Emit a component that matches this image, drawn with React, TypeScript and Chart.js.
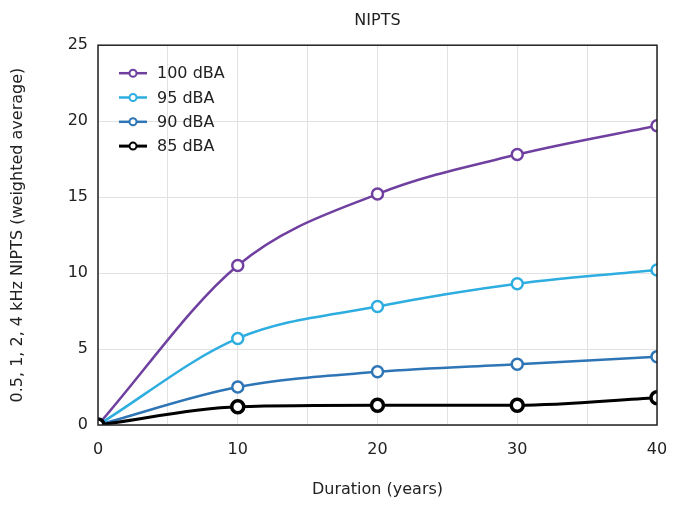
import React, { useEffect, useRef } from "react";
import { Chart, registerables } from "chart.js";

Chart.register(...registerables);

const durations = [0, 10, 20, 30, 40];
const seriesLabels = ["100 dBA", "95 dBA", "90 dBA", "85 dBA"];
const nipts100 = [0, 10.5, 15.2, 17.8, 19.7];
const nipts95 = [0, 5.7, 7.8, 9.3, 10.2];
const nipts90 = [0, 2.5, 3.5, 4.0, 4.5];
const nipts85 = [0, 1.2, 1.3, 1.3, 1.8];
const seriesColors = ["#7040A0", "#2EADE0", "#2E75B6", "#000000"];

const FONT = "'DejaVu Sans', sans-serif";

const frameAndLegend = {
  id: "frameAndLegend",
  afterDatasetsDraw(chart: any) {
    const { ctx, chartArea } = chart;
    ctx.save();
    ctx.strokeStyle = "#222";
    ctx.lineWidth = 1.5;
    ctx.strokeRect(chartArea.left, chartArea.top, chartArea.right - chartArea.left, chartArea.bottom - chartArea.top);
    ctx.restore();
  },
  afterDraw(chart: any) {
    const { ctx, chartArea } = chart;
    const ds = chart.data.datasets.slice().reverse();
    ctx.save();
    ds.forEach((d: any, i: number) => {
      const y = chartArea.top + 28 + i * 24.3;
      const x0 = chartArea.left + 21;
      ctx.strokeStyle = d.borderColor;
      ctx.lineWidth = d.borderWidth;
      ctx.beginPath();
      ctx.moveTo(x0, y);
      ctx.lineTo(x0 + 28, y);
      ctx.stroke();
      ctx.beginPath();
      ctx.arc(x0 + 14, y, 3.5, 0, Math.PI * 2);
      ctx.fillStyle = "#fff";
      ctx.fill();
      ctx.lineWidth = 2;
      ctx.stroke();
      ctx.fillStyle = "#222";
      ctx.font = `16px ${FONT}`;
      ctx.textBaseline = "middle";
      ctx.textAlign = "left";
      ctx.fillText(d.label, x0 + 38, y + 1);
    });
    ctx.restore();
  },
};

export default function App() {
  const ref = useRef<HTMLCanvasElement | null>(null);
  useEffect(() => {
    document.body.style.margin = "0";
    const values = [nipts100, nipts95, nipts90, nipts85];
    const datasets = values
      .map((v, i) => ({
        label: seriesLabels[i],
        data: v.map((y, j) => ({ x: durations[j], y })),
        borderColor: seriesColors[i],
        backgroundColor: "#ffffff",
        pointBackgroundColor: "#ffffff",
        pointBorderColor: seriesColors[i],
        borderWidth: i === 3 ? 3 : 2.5,
        pointRadius: i === 3 ? 6 : 5.5,
        pointBorderWidth: i === 3 ? 3.5 : 2.5,
        cubicInterpolationMode: "monotone",
      }))
      .reverse();
    const chart = new Chart(ref.current as HTMLCanvasElement, {
      type: "line",
      data: { datasets },
      plugins: [frameAndLegend],
      options: {
        animation: false,
        responsive: false,
        maintainAspectRatio: false,
        layout: { padding: { left: 0, right: 17, top: 0, bottom: 0 } },
        plugins: {
          legend: { display: false },
          tooltip: { enabled: false },
          title: {
            display: true,
            text: "NIPTS",
            fullSize: false,
            color: "#222",
            font: { family: FONT, size: 16, weight: "normal" },
            padding: { top: 11, bottom: 15 },
          },
        },
        scales: {
          x: {
            type: "linear",
            min: 0,
            max: 40,
            afterFit: (s: any) => {
              s.height = 81;
              s.paddingRight = 0;
              s.paddingLeft = 0;
            },
            ticks: {
              stepSize: 5,
              padding: 15,
              color: "#222",
              font: { family: FONT, size: 16 },
              maxRotation: 0,
              callback: (v: any) => (Number(v) % 10 === 0 ? String(v) : ""),
            },
            grid: { color: "#e2e2e2", lineWidth: 1, drawTicks: false },
            border: { display: false },
            title: {
              display: true,
              text: "Duration (years)",
              color: "#222",
              font: { family: FONT, size: 16 },
              padding: { top: 0, bottom: 7 },
            },
          },
          y: {
            type: "linear",
            min: 0,
            max: 25,
            afterFit: (s: any) => {
              s.width = 98;
            },
            ticks: {
              stepSize: 5,
              padding: 10,
              color: "#222",
              font: { family: FONT, size: 16 },
            },
            grid: { color: "#e2e2e2", lineWidth: 1, drawTicks: false },
            border: { display: false },
            title: {
              display: true,
              text: "0.5, 1, 2, 4 kHz NIPTS (weighted average)",
              color: "#222",
              font: { family: FONT, size: 16 },
              padding: { top: 8, bottom: 0 },
            },
          },
        },
      },
    } as any);
    return () => chart.destroy();
  }, []);
  return (
    <div style={{ width: 674, height: 506 }}>
      <canvas ref={ref} width={674} height={506} style={{ display: "block" }} />
    </div>
  );
}
